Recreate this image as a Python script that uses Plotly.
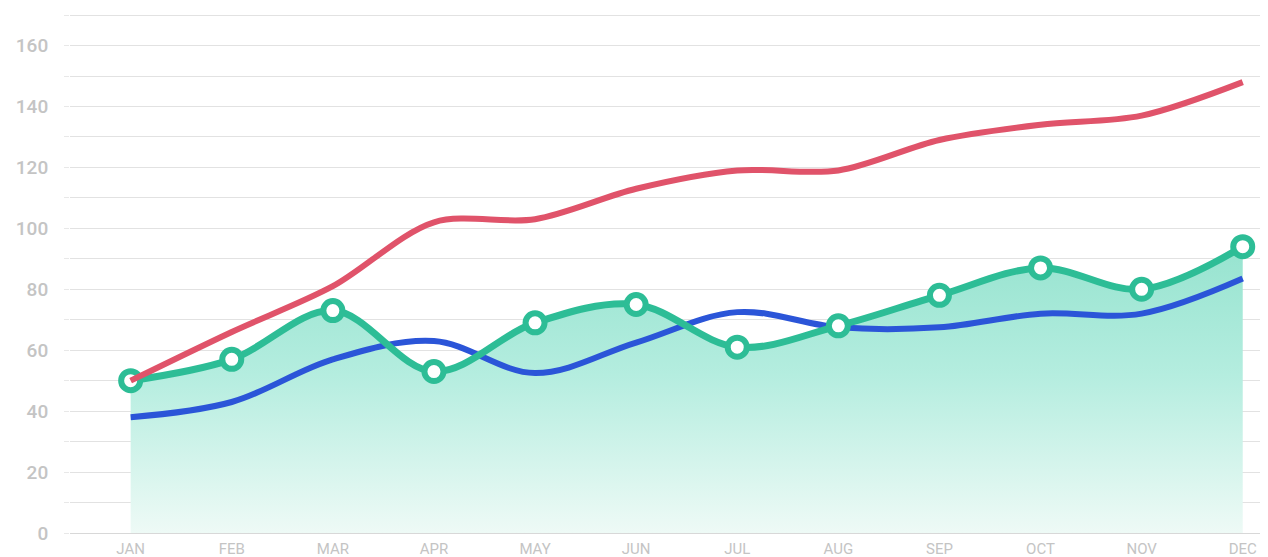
import plotly.graph_objects as go

months = ["JAN", "FEB", "MAR", "APR", "MAY", "JUN", "JUL", "AUG", "SEP", "OCT", "NOV", "DEC"]
red_values = [50, 66, 81, 102, 103, 113, 119, 119, 129, 134, 137, 148]
blue_values = [38, 43, 57, 63, 52.5, 62.5, 72.5, 67.5, 67.5, 72, 72, 83.5]
green_values = [50, 57, 73, 53, 69, 75, 61, 68, 78, 87, 80, 94]
y_tick_values = [0, 20, 40, 60, 80, 100, 120, 140, 160]

x = list(range(len(months)))

fig = go.Figure()

# Green area fill (gradient)
fig.add_trace(go.Scatter(
    x=x, y=green_values, mode="lines",
    line=dict(shape="spline", smoothing=1.0, width=0, color="rgba(0,0,0,0)"),
    fill="tozeroy",
    fillgradient=dict(type="vertical", start=0, stop=95,
                      colorscale=[[0, "#eefaf6"], [0.55, "#b4eddf"], [1, "#96e3cf"]]),
    hoverinfo="skip", showlegend=False,
))

# Blue line
fig.add_trace(go.Scatter(
    x=x, y=blue_values, mode="lines",
    line=dict(shape="spline", smoothing=1.0, width=6, color="#2b55d8"),
    showlegend=False,
))

# Green line with markers
fig.add_trace(go.Scatter(
    x=x, y=green_values, mode="lines+markers",
    line=dict(shape="spline", smoothing=1.0, width=7, color="#2dbd96"),
    marker=dict(size=19, color="white", line=dict(width=6, color="#2dbd96")),
    cliponaxis=False,
    showlegend=False,
))

# Red line
fig.add_trace(go.Scatter(
    x=x, y=red_values, mode="lines",
    line=dict(shape="spline", smoothing=0.9, width=6, color="#e0536a"),
    showlegend=False,
))

fig.update_layout(
    width=1260, height=549,
    margin=dict(l=62, r=0, t=1, b=24),
    paper_bgcolor="white", plot_bgcolor="white",
    font=dict(family="Roboto, DejaVu Sans, sans-serif", color="#c6c6c6"),
    xaxis=dict(
        tickmode="array", tickvals=x, ticktext=months,
        range=[-0.6, 11.25], showgrid=False, zeroline=False,
        showline=False, ticks="",
        ticklabelstandoff=5,
        tickfont=dict(size=15, color="#c4c4c4", family="Roboto, sans-serif"),
    ),
    yaxis=dict(
        range=[0, 172], tickmode="array", tickvals=y_tick_values,
        showgrid=True, gridcolor="#e2e2e2", gridwidth=1,
        zeroline=True, zerolinecolor="#d8d8d8", zerolinewidth=1,
        ticks="outside", ticklen=5, tickcolor="#e8e8e8",
        ticklabelstandoff=12,
        minor=dict(dtick=10, showgrid=True, gridcolor="#e2e2e2", ticks="outside",
                   ticklen=5, tickcolor="#e8e8e8"),
        tickfont=dict(size=19, color="#c4c4c4", family="Roboto, sans-serif", weight=500),
    ),
)

fig.write_html("out.html")
